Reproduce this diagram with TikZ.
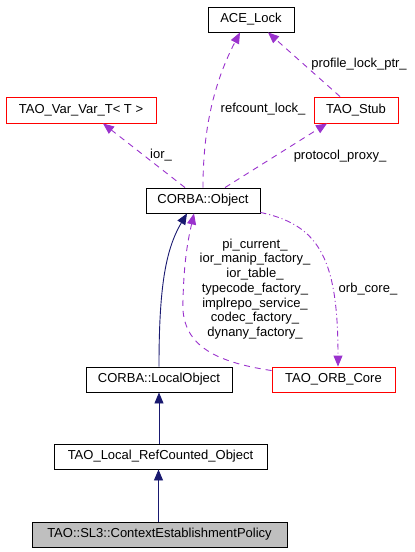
\documentclass[tikz,border=0pt]{standalone}
\usepackage{fontspec}
\setmainfont{Liberation Sans}
\usetikzlibrary{arrows.meta}
\definecolor{dxred}{HTML}{FF0000}
\definecolor{dxpurple}{HTML}{9A32CD}
\definecolor{dxnavy}{HTML}{191970}
\definecolor{dxgray}{HTML}{BFBFBF}
\tikzset{
  cls/.style={draw=black, line width=0.9pt, minimum height=25pt, inner sep=0pt, font=\fontsize{13}{14}\selectfont},
  redcls/.style={cls, draw=dxred},
  inh/.style={draw=dxnavy, line width=0.9pt, -{Triangle[length=11pt,width=9pt]}},
  usage/.style={draw=dxpurple, line width=0.9pt, dash pattern=on 6pt off 5pt, -{Triangle[length=11pt,width=9pt]}},
  usagedd/.style={draw=dxpurple, line width=0.9pt, dash pattern=on 6pt off 3pt on 1pt off 3pt, -{Triangle[length=11pt,width=9pt]}},
  lbl/.style={font=\fontsize{13}{14.7}\selectfont, inner sep=0pt, align=center}
}
\begin{document}
\begin{tikzpicture}[x=1pt,y=-1pt]
\useasboundingbox (0,0) rectangle (415,552);
\node[cls, minimum width=86pt] (ace) at (251,19.5) {ACE\_Lock};
\node[redcls, minimum width=150pt, minimum height=26pt] (var) at (81,110) {TAO\_Var\_Var\_T< T >};
\node[redcls, minimum width=84pt, minimum height=26pt] (stub) at (356,110) {TAO\_Stub};
\node[cls, minimum width=114pt] (obj) at (203,200.5) {CORBA::Object};
\node[cls, minimum width=146pt] (local) at (159,379.5) {CORBA::LocalObject};
\node[redcls, minimum width=123pt] (orb) at (333.5,379.5) {TAO\_ORB\_Core};
\node[cls, minimum width=213pt] (rc) at (160.5,456.5) {TAO\_Local\_RefCounted\_Object};
\node[cls, minimum width=255pt, fill=dxgray] (ctx) at (159.5,534.5) {TAO::SL3::ContextEstablishmentPolicy};

% inheritance
\draw[inh] ([xshift=-1pt]ctx.north) -- ([xshift=-2pt]rc.south);
\draw[inh] ([xshift=-1.5pt]rc.north) -- (local.south);
\draw[inh] (local.north) .. controls (159,290) and (165,250) .. ([xshift=-16pt]obj.south);

% usage
\draw[usage] ([xshift=-18pt]obj.north) -- ([xshift=22pt]var.south);
\node[lbl] (l1) at (161,155) {ior\_};
\draw[usage] (obj.north) .. controls (203,140) and (210,90) .. ([xshift=-11pt]ace.south);
\node[lbl] (l2) at (263,109) {refcount\_lock\_};
\draw[usage] ([xshift=22pt]obj.north) -- ([xshift=-29pt]stub.south);
\node[lbl] (l3) at (340,156) {protocol\_proxy\_};
\draw[usage] ([xshift=-16pt]stub.north) -- ([xshift=17pt]ace.south);
\node[lbl] (l4) at (359,64) {profile\_lock\_ptr\_};
\draw[usagedd] ([yshift=1pt]obj.south east) .. controls (320,225) and (338,260) .. ([xshift=4.5pt]orb.north);
\node[lbl] (l5) at (368,289) {orb\_core\_};
\draw[usage] ([yshift=-4pt]orb.north west) .. controls (215,362) and (180,345) .. (183,300) .. controls (184,260) and (188,240) .. ([xshift=-9pt]obj.south);
\node[lbl] (l6) at (255,289) {pi\_current\_\\ior\_manip\_factory\_\\ior\_table\_\\typecode\_factory\_\\implrepo\_service\_\\codec\_factory\_\\dynany\_factory\_};
\end{tikzpicture}
\end{document}
